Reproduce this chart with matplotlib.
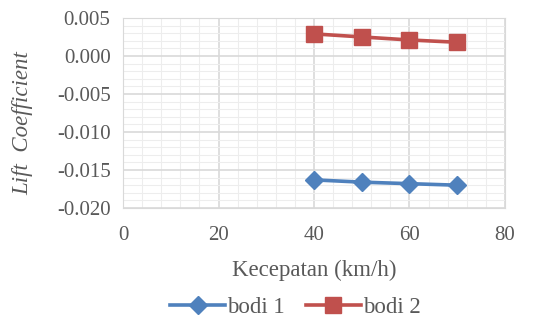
import matplotlib.pyplot as plt
from matplotlib.ticker import MultipleLocator

# Data
kecepatan = [40, 50, 60, 70]
bodi1 = [-0.0163, -0.0166, -0.0168, -0.0170]
bodi2 = [0.0029, 0.0025, 0.0021, 0.0018]

plt.rcParams['font.family'] = ['Liberation Serif', 'DejaVu Serif']

fig = plt.figure(figsize=(5.47, 3.2), dpi=100)
ax = fig.add_axes([0.225, 0.35, 0.698, 0.594])

ax.plot(kecepatan, bodi1, color='#4F81BD', linewidth=2.6, marker='D',
        markersize=9.5, label='bodi 1', zorder=3)
ax.plot(kecepatan, bodi2, color='#C0504D', linewidth=2.6, marker='s',
        markersize=11, label='bodi 2', zorder=3)

ax.set_xlim(0, 80)
ax.set_ylim(-0.020, 0.005)
ax.xaxis.set_major_locator(MultipleLocator(20))
ax.xaxis.set_minor_locator(MultipleLocator(4))
ax.yaxis.set_major_locator(MultipleLocator(0.005))
ax.yaxis.set_minor_locator(MultipleLocator(0.001))
ax.yaxis.set_major_formatter(plt.FuncFormatter(lambda v, p: f"{v:.3f}"))

ax.grid(which='major', color='#D9D9D9', linewidth=1.2)
ax.grid(which='minor', color='#EDEDED', linewidth=0.8)
ax.set_axisbelow(True)
for s in ax.spines.values():
    s.set_color('#D9D9D9')
ax.tick_params(which='both', length=0, labelsize=15, labelcolor='#595959')
ax.tick_params(axis='x', pad=13)
ax.tick_params(axis='y', pad=9)

ax.set_xlabel('Kecepatan (km/h)', fontsize=16.5, color='#595959', va='center')
ax.xaxis.set_label_coords(0.5, -0.326)
ax.set_ylabel('Lift  Coefficient', fontsize=16.5, color='#595959', style='italic', va='center')
ax.yaxis.set_label_coords(-0.264, 0.447)

fig.legend(loc='center', bbox_to_anchor=(0.54, 0.04), ncol=2, frameon=False,
           fontsize=16.5, labelcolor='#595959', handlelength=2.4, columnspacing=0.9,
           handletextpad=0.1)

fig.savefig('out.png', dpi=100)
